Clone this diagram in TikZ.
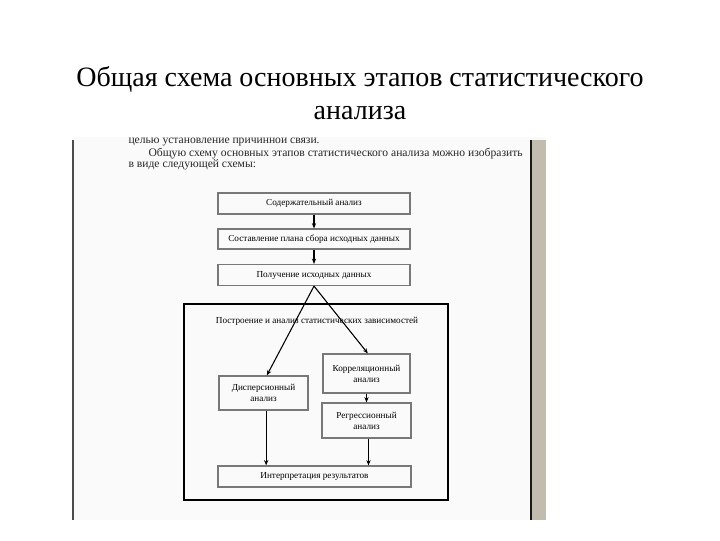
\documentclass[tikz,border=0pt]{standalone}
\usepackage{fontspec}
\setmainfont{Liberation Serif}
\usetikzlibrary{arrows.meta}

\definecolor{scanbg}{RGB}{250,250,250}
\definecolor{scanbar}{RGB}{192,188,174}
\definecolor{boxline}{RGB}{120,120,120}

\tikzset{every picture/.style={line width=0.75pt}}
\tikzset{
	stagebox/.style={draw=boxline, line width=0.9pt, inner sep=1pt, align=center, font=\fontsize{6.9}{8.2}\selectfont},
	flowarrow/.style={-{Stealth[length=4pt,width=3.2pt]}, line width=0.8pt},
	scantext/.style={anchor=base west, inner sep=0pt, font=\fontsize{8.7}{10}\selectfont, text=black!85}
}

\begin{document}
\begin{tikzpicture}[x=0.75pt,y=0.75pt,yscale=-1,xscale=1]
	\useasboundingbox (0,0) rectangle (720,540);

	% Title
	\node [anchor=base, inner sep=0pt, font=\fontsize{21}{25}\selectfont] (title1) at (360,86) {Общая схема основных этапов статистического};
	\node [anchor=base, inner sep=0pt, font=\fontsize{21}{25}\selectfont] (title2) at (360,119) {анализа};

	%Shape: Scanned page [id:scan]
	\fill [scanbg] (73,137) rectangle (546,520);
	\fill [scanbar] (532,140) rectangle (546,520);
	\draw [line width=1.4pt, black!90] (531,140) -- (531,520);
	\draw [line width=1.2pt, black!70] (73,140) -- (73,520);

	% Text of the page (first line cut off)
	\begin{scope}
		\clip (80,137) rectangle (530,200);
		\node [scantext] (par0) at (128,143) {целью установление причинной связи.};
	\end{scope}
	\node [scantext] (par1) at (148,156) {Общую схему основных этапов статистического анализа можно изобразить};
	\node [scantext] (par2) at (128,167) {в виде следующей схемы:};

	%Shape: Frame of the dependency block
	\draw [line width=1.1pt] (184,304) rectangle (448,500);
	% Text Node
	\node [anchor=base, inner sep=0pt, font=\fontsize{6.9}{8.2}\selectfont] (block) at (317,323) {Построение и анализ статистических зависимостей};

	% Stages
	\node [stagebox, minimum width=144pt, minimum height=15.75pt] (content) at (314,203.5) {Содержательный анализ};
	\node [stagebox, minimum width=144pt, minimum height=15pt] (plan) at (314,239) {Составление плана сбора исходных данных};
	\node [stagebox, minimum width=144pt, minimum height=15.75pt] (data) at (314,275) {Получение исходных данных};
	\node [stagebox, minimum width=66.75pt, minimum height=25.5pt] (disp) at (263.5,393) {Дисперсионный\\анализ};
	\node [stagebox, minimum width=65.25pt, minimum height=29.25pt] (corr) at (366.5,373.5) {Корреляционный\\анализ};
	\node [stagebox, minimum width=66.75pt, minimum height=26.25pt] (regr) at (366.5,420.5) {Регрессионный\\анализ};
	\node [stagebox, minimum width=144.75pt, minimum height=15.75pt] (interp) at (314.5,476.5) {Интерпретация результатов};

	% Arrows
	\draw [flowarrow] (content) -- (plan);
	\draw [flowarrow] (plan) -- (data);
	\draw [flowarrow] (data.south) -- ([xshift=2.5pt]disp.north);
	\draw [flowarrow] (data.south) -- ([xshift=1pt]corr.north);
	\draw [flowarrow] (corr) -- (regr);
	\draw [flowarrow] ([xshift=2pt]disp.south) -- ([xshift=2pt]disp.south |- interp.north);
	\draw [flowarrow] ([xshift=1.5pt]regr.south) -- ([xshift=1.5pt]regr.south |- interp.north);

\end{tikzpicture}
\end{document}
